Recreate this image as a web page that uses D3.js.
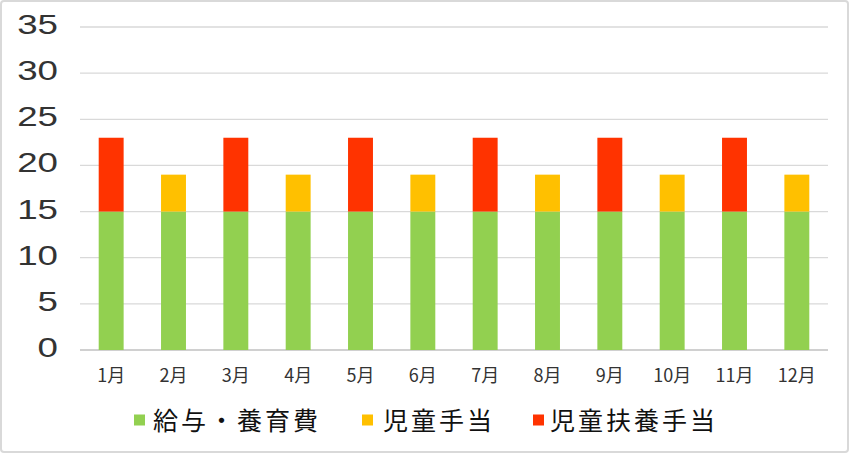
<!DOCTYPE html>
<html><head><meta charset="utf-8">
<script src="https://cdn.jsdelivr.net/npm/d3@7"></script>
<style>body{margin:0;background:#fff;} svg{display:block;}</style>
</head><body>
<script>
const months = ["1月","2月","3月","4月","5月","6月","7月","8月","9月","10月","11月","12月"];
const salary = [15,15,15,15,15,15,15,15,15,15,15,15];
const childAllowance = [0,4,0,4,0,4,0,4,0,4,0,4];
const childSupport = [8,0,8,0,8,0,8,0,8,0,8,0];
const seriesNames = ["給与・養育費","児童手当","児童扶養手当"];
const colors = ["#92D050","#FFC000","#FF3300"];
const yTicks = [0,5,10,15,20,25,30,35];

(function(){
const W=851,H=455;
const svg=d3.select("body").append("svg").attr("width",W).attr("height",H);
svg.append("rect").attr("x",1).attr("y",1).attr("width",847).attr("height",451).attr("rx",3)
  .attr("fill","#fff").attr("stroke","#d9d9d9").attr("stroke-width",2);

const pL=80,pR=828,pT=27,pB=350;
const x=d3.scaleBand().domain(months).range([pL,pR]).paddingInner(0.6).paddingOuter(0.3);
const y=d3.scaleLinear().domain([0,35]).range([pB,pT]);
const cjk="'Noto Sans CJK JP','Noto Sans',sans-serif";
const num="'Liberation Sans',Arial,sans-serif";

const grid=svg.append("g");
grid.selectAll("line").data(yTicks).join("line")
  .attr("x1",pL).attr("x2",pR).attr("y1",d=>y(d)).attr("y2",d=>y(d))
  .attr("stroke",d=>d===0?"#d0d0d0":"#d9d9d9").attr("stroke-width",d=>d===0?2:1.3);

const yl=svg.append("g").selectAll("g").data(yTicks).join("g")
  .attr("transform",d=>`translate(58,${y(d)+7}) scale(1.36,1)`);
yl.append("text").attr("text-anchor","end").text(d=>d)
  .attr("font-family",num).attr("font-size",27).attr("fill","#333");

const data=months.map((m,i)=>({m,s0:salary[i],s1:childAllowance[i],s2:childSupport[i]}));
const stack=d3.stack().keys(["s0","s1","s2"])(data);
svg.append("g").selectAll("g").data(stack).join("g").attr("fill",(d,i)=>colors[i])
  .selectAll("rect").data(d=>d.filter(v=>v[1]>v[0])).join("rect")
  .attr("x",d=>x(d.data.m)).attr("width",x.bandwidth())
  .attr("y",d=>y(d[1])).attr("height",d=>y(d[0])-y(d[1]));

const xl=svg.append("g").selectAll("g").data(months).join("g")
  .attr("transform",d=>`translate(${x(d)+x.bandwidth()/2},382)`);
xl.append("text").attr("text-anchor","middle").text(d=>d)
  .attr("font-family",cjk).attr("font-size",18).attr("fill","#333");

const legSq=[134,362,533], legTx=[153,383,550];
const leg=svg.append("g").selectAll("g").data(seriesNames).join("g");
leg.append("rect").attr("x",(d,i)=>legSq[i]).attr("y",414.5).attr("width",11).attr("height",11).attr("fill",(d,i)=>colors[i]);
leg.append("text").attr("x",(d,i)=>legTx[i]).attr("y",430).text(d=>d)
  .attr("font-family",cjk).attr("font-size",25).attr("letter-spacing",3).attr("fill","#111");
})();
</script>
</body></html>
